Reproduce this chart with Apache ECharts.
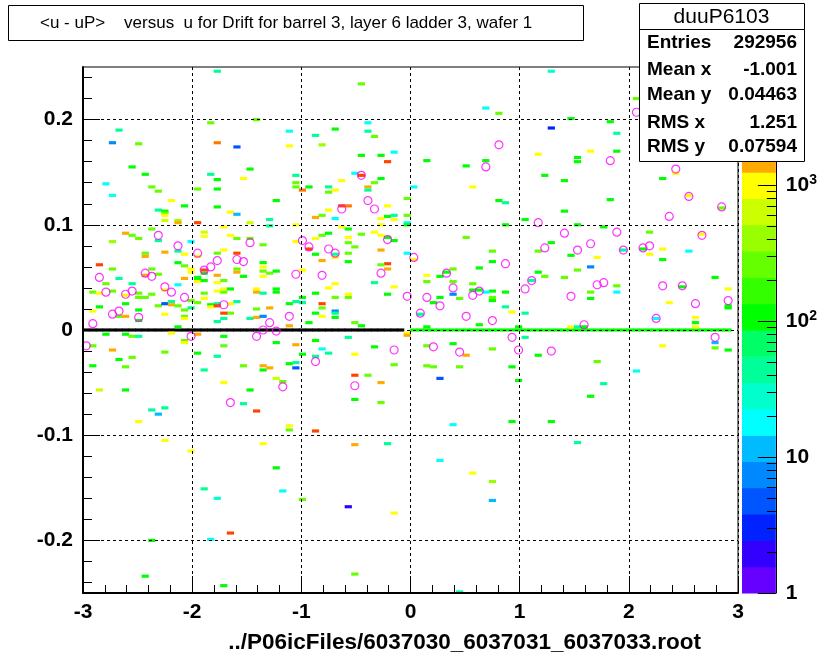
<!DOCTYPE html>
<html>
<head>
<meta charset="utf-8">
<script src="https://cdn.jsdelivr.net/npm/echarts@6/dist/echarts.min.js"></script>
<style>html,body{margin:0;padding:0;background:#fff}#chart{width:820px;height:660px}</style>
</head>
<body>
<div id="chart"></div>
<script>
// ---------------- DATA ----------------
const titleText = '<u - uP>    versus  u for Drift for barrel 3, layer 6 ladder 3, wafer 1';
const xAxisTitle = '../P06icFiles/6037030_6037031_6037033.root';
const histName = 'duuP6103';
const statLabels = ['Entries', 'Mean x', 'Mean y', 'RMS x', 'RMS y'];
const statValues = ['292956', '-1.001', '0.04463', '1.251', '0.07594'];

const yMajorTicks = [-0.2, -0.1, 0, 0.1, 0.2];
const yMinorTicks = [-0.24, -0.22, -0.18, -0.16, -0.14, -0.12, -0.08, -0.06, -0.04, -0.02,
  0.02, 0.04, 0.06, 0.08, 0.12, 0.14, 0.16, 0.18, 0.22, 0.24];
const zMajorCounts = [1, 10, 100, 1000];
const zMinorCounts = [2, 3, 4, 5, 6, 7, 8, 9, 20, 30, 40, 50, 60, 70, 80, 90,
  200, 300, 400, 500, 600, 700, 800, 900, 2000, 3000, 4000, 5000, 6000, 7000];
const zMaxCount = 7413;

// bin centres of the y = 0 band (large counts)
const zeroLineBlackX = [-2.97, -2.91, -2.85, -2.79, -2.73, -2.67, -2.61, -2.55, -2.49, -2.43,
  -2.37, -2.31, -2.25, -2.19, -2.13, -2.07, -2.01, -1.95, -1.89, -1.83, -1.77, -1.71, -1.65,
  -1.59, -1.53, -1.47, -1.41, -1.35, -1.29, -1.23, -1.17, -1.11, -1.05, -0.99, -0.93, -0.87,
  -0.81, -0.75, -0.69, -0.63, -0.57, -0.51, -0.45, -0.39, -0.33, -0.27, -0.21, -0.15, -0.09];
const zeroLineBlackCount = 8000;
const zeroLineGreenX = [0.03, 0.09, 0.15, 0.21, 0.27, 0.33, 0.39, 0.45, 0.51, 0.57, 0.63, 0.69,
  0.75, 0.81, 0.87, 0.93, 0.99, 1.05, 1.11, 1.17, 1.23, 1.29, 1.35, 1.41, 1.47, 1.53, 1.59,
  1.65, 1.71, 1.77, 1.83, 1.89, 1.95, 2.01, 2.07, 2.13, 2.19, 2.25, 2.31, 2.37, 2.43, 2.49,
  2.55, 2.61, 2.67, 2.73, 2.79, 2.85, 2.91];
const zeroLineGreenCount = 108;

// [x, y, counts] cells, x < 0, upper part
const cellsLeftUpper = [
[-1.77,0.246,44],[-0.45,0.234,262],[-1.83,0.197,262],[-1.41,0.200,262],[-2.67,0.190,44],
[-1.11,0.189,18],[-0.39,0.197,18],[-0.39,0.189,44],[-0.87,0.185,44],[-0.69,0.191,108],
[-2.73,0.178,7],[-2.49,0.177,262],[-1.77,0.178,2430],[-1.59,0.174,5],[-1.11,0.175,1000],
[-0.81,0.176,410],[-0.33,0.184,262],[-0.15,0.169,18],[-0.45,0.166,108],[-0.27,0.166,108],
[-0.21,0.160,3800],[-2.55,0.155,108],[-2.43,0.148,108],[-1.83,0.148,44],[-1.77,0.143,108],
[-1.47,0.153,108],[-1.53,0.144,1000],[-1.05,0.147,44],[-1.05,0.140,262],[-2.79,0.139,18],
[-2.37,0.136,262],[-2.31,0.132,262],[-1.95,0.134,262],[-1.77,0.134,108],[-1.05,0.136,262],
[-0.93,0.136,108],[-0.99,0.133,2430],[-0.75,0.136,44],[-0.75,0.131,262],[-0.69,0.133,1000],
[-0.63,0.142,1000],[-0.51,0.149,18],[-0.45,0.147,3800],[-0.39,0.136,1560],[-0.39,0.133,44],
[-0.27,0.144,108],[-0.33,0.140,262],[-2.73,0.128,18],[-2.19,0.123,1000],[-1.23,0.123,108],
[-0.03,0.125,262],[-2.07,0.118,108],[-1.77,0.117,108],[-1.65,0.112,1000],[-1.59,0.110,12],
[-2.31,0.114,44],[-2.25,0.113,108],[-2.25,0.111,262],[-2.25,0.109,1000],[-2.25,0.104,640],
[-2.13,0.104,410],[-2.13,0.102,1560],[-1.95,0.102,3800],[-1.47,0.102,640],[-1.29,0.105,44],
[-1.29,0.099,44],[-1.71,0.098,1000],[-1.05,0.100,1000],[-0.75,0.114,1000],[-0.81,0.109,262],
[-0.87,0.107,1560],[-0.69,0.106,18],[-0.63,0.118,3800],[-0.57,0.118,2430],[-0.63,0.098,1000],
[-0.21,0.118,1000],[-0.27,0.106,1000],[-0.21,0.108,108],[-0.15,0.109,44],[-0.15,0.105,1000],
[-0.03,0.109,262],[-0.03,0.102,18],[-0.03,0.100,108],[-0.27,0.100,1000]
];
// x < 0, between 0 and 0.1
const cellsLeftMid = [
[-2.61,0.092,1560],[-2.55,0.090,262],[-2.49,0.087,262],[-2.37,0.096,262],[-2.31,0.085,44],
[-2.73,0.084,410],[-1.89,0.093,640],[-1.89,0.089,1000],[-1.65,0.090,1000],[-1.59,0.087,262],
[-1.47,0.087,262],[-1.35,0.081,262],[-2.01,0.084,18],[-1.71,0.076,1000],[-2.25,0.074,1560],
[-2.13,0.075,44],[-2.07,0.072,1000],[-2.43,0.073,262],[-2.43,0.070,1560],[-1.95,0.070,1000],
[-1.77,0.073,262],[-1.59,0.073,3800],[-1.35,0.064,108],[-1.35,0.060,1000],[-1.35,0.056,262],
[-1.29,0.054,262],[-1.23,0.056,108],[-1.35,0.051,1000],[-1.05,0.084,1000],[-0.87,0.087,1000],
[-0.81,0.090,262],[-0.75,0.092,108],[-0.57,0.096,108],[-0.57,0.088,1000],[-0.57,0.083,262],
[-0.51,0.079,262],[-0.45,0.091,262],[-0.33,0.093,1000],[-0.27,0.090,1000],[-0.21,0.088,108],
[-0.15,0.085,108],[-0.93,0.077,3800],[-0.87,0.072,108],[-0.81,0.066,1560],[-0.69,0.072,44],
[-0.69,0.069,1000],[-0.57,0.073,262],[-0.57,0.065,108],[-0.27,0.076,1560],[-0.21,0.063,3800],
[-0.21,0.058,1560],[-0.27,0.062,262],[-0.03,0.073,18],[-0.99,0.057,1000],[-0.33,0.045,44],
[-0.15,0.041,1000],[-0.21,0.034,108],[-2.85,0.062,3800],[-2.73,0.058,262],[-2.43,0.052,1560],
[-2.37,0.058,262],[-2.31,0.053,262],[-2.13,0.064,108],[-2.07,0.061,262],[-2.07,0.049,1560],
[-2.01,0.058,1000],[-2.01,0.055,1000],[-1.95,0.050,108],[-1.95,0.048,108],[-1.95,0.046,1000],
[-1.89,0.057,3800],[-1.89,0.054,108],[-1.89,0.047,108],[-1.77,0.052,1560],[-1.77,0.045,1000],
[-1.71,0.047,262],[-1.59,0.058,262],[-1.59,0.055,1560],[-1.53,0.051,108],[-2.67,0.049,44],
[-2.79,0.044,262],[-2.55,0.044,44],[-2.13,0.043,18],[-2.91,0.036,262],[-2.85,0.035,1000],
[-2.73,0.037,262],[-2.61,0.033,1000],[-2.49,0.035,262],[-2.49,0.031,262],[-2.43,0.031,262],
[-2.37,0.034,262],[-2.25,0.038,1000],[-2.01,0.028,262],[-1.89,0.035,262],[-1.89,0.030,1000],
[-1.77,0.037,1000],[-1.71,0.039,1000],[-1.65,0.039,108],[-1.71,0.036,262],[-1.41,0.039,1000],
[-1.41,0.036,1560],[-1.23,0.039,108],[-1.23,0.036,108],[-1.35,0.035,44],[-0.99,0.031,108],
[-0.87,0.035,108],[-0.75,0.040,1000],[-0.69,0.044,1000],[-0.57,0.034,1000],[-0.57,0.031,262],
[-0.69,0.031,262],[-2.61,0.025,108],[-2.31,0.023,262],[-2.25,0.025,5],[-2.19,0.027,44],
[-2.19,0.024,1560],[-2.13,0.023,262],[-1.95,0.026,262],[-2.01,0.021,44],[-1.83,0.024,108],
[-1.83,0.022,1000],[-1.77,0.025,44],[-1.77,0.023,3800],[-1.65,0.025,1000],[-1.59,0.027,44],
[-1.65,0.016,262],[-1.71,0.016,3800],[-1.71,0.011,44],[-1.41,0.020,262],[-1.29,0.021,1560],
[-1.11,0.025,108],[-1.05,0.027,44],[-0.99,0.026,44],[-0.81,0.025,3800],[-0.81,0.021,262],
[-0.69,0.018,7],[-0.69,0.016,44],[-0.87,0.016,108],[-0.81,0.013,1000],[-0.69,0.012,108],
[-0.51,0.007,262],[-0.45,0.004,108],[-2.91,0.018,1000],[-2.85,0.022,108],[-2.67,0.013,262],
[-2.61,0.013,1560],[-2.49,0.019,108],[-2.49,0.009,108],[-2.25,0.015,1000],[-2.07,0.019,262],
[-2.07,0.013,262],[-2.07,0.011,1000],[-1.77,0.008,44],[-1.47,0.011,44],[-1.41,0.012,1560],
[-1.35,0.013,7],[-1.11,0.004,1560],[-0.93,0.007,108],[-2.13,0.003,108]
];
// x < 0, below 0
const cellsLeftLower = [
[-2.19,-0.003,1000],[-2.79,-0.004,108],[-2.61,-0.004,108],[-2.55,-0.006,262],[-2.49,-0.006,44],
[-1.95,-0.004,1560],[-1.71,-0.006,108],[-0.57,-0.007,44],[-0.03,-0.003,1000],[-0.03,-0.005,1560],
[-2.07,-0.010,262],[-2.07,-0.012,1000],[-2.91,-0.015,262],[-2.73,-0.019,1560],[-2.67,-0.028,108],
[-2.55,-0.026,262],[-2.61,-0.035,262],[-2.91,-0.034,108],[-2.25,-0.021,262],[-1.95,-0.022,108],
[-1.77,-0.025,44],[-1.71,-0.015,262],[-1.89,-0.038,44],[-1.53,-0.034,262],[-1.35,-0.034,1560],
[-1.35,-0.038,108],[-1.29,-0.036,1560],[-1.23,-0.012,108],[-1.05,-0.014,1560],[-0.99,-0.023,108],
[-0.87,-0.010,108],[-0.81,-0.018,18],[-0.75,-0.022,44],[-0.87,-0.025,44],[-1.11,-0.032,108],
[-1.05,-0.031,44],[-1.05,-0.036,5],[-0.51,-0.023,1000],[-0.33,-0.016,108],[-0.15,-0.033,262],
[-1.23,-0.046,640],[-1.17,-0.049,262],[-1.71,-0.050,1000],[-2.85,-0.057,640],[-2.61,-0.057,108],
[-1.47,-0.057,108],[-0.51,-0.043,3800],[-0.39,-0.043,262],[-0.27,-0.050,1560],[-0.51,-0.066,108],
[-0.27,-0.069,262],[-2.37,-0.076,44],[-2.25,-0.074,44],[-2.31,-0.080,12],[-1.53,-0.070,44],
[-1.41,-0.077,3800],[-2.49,-0.087,1000],[-1.11,-0.091,1000],[-1.11,-0.095,262],[-0.87,-0.096,3800],
[-2.25,-0.105,1000],[-1.35,-0.108,1000],[-0.51,-0.109,1560],[-0.21,-0.108,44],[-2.01,-0.115,1000],
[-1.23,-0.131,108],[-1.89,-0.151,44],[-1.77,-0.160,28],[-1.17,-0.153,18],[-0.99,-0.161,262],
[-0.57,-0.168,2],[-0.15,-0.174,1000],[-1.65,-0.193,3800],[-2.37,-0.200,108],[-1.83,-0.199,18],
[-2.43,-0.234,108],[-0.51,-0.232,262],[-1.71,-0.243,108]
];
// x > 0
const cellsRight = [
[1.29,0.246,28],[0.69,0.211,18],[0.81,0.206,262],[2.07,0.220,262],[1.47,0.201,108],
[1.29,0.192,3],[1.83,0.198,108],[1.89,0.187,44],[1.65,0.170,1000],[1.17,0.167,1000],
[1.53,0.164,108],[1.53,0.160,108],[1.89,0.170,108],[0.15,0.161,108],[0.69,0.161,108],
[0.51,0.156,108],[0.57,0.136,1000],[0.03,0.136,18],[1.23,0.147,108],[1.41,0.142,108],
[0.81,0.123,108],[0.87,0.121,44],[1.41,0.113,108],[1.83,0.124,108],[2.43,0.149,1000],
[2.31,0.144,108],[2.55,0.128,1000],[2.85,0.116,262],[1.05,0.105,108],[1.53,0.100,108],
[0.87,0.100,108],[1.77,0.098,108],[2.19,0.093,262],[2.67,0.091,1000],[0.51,0.088,262],
[0.75,0.075,262],[0.03,0.067,1000],[0.75,0.065,108],[0.33,0.055,108],[0.39,0.058,262],
[0.15,0.052,1000],[0.15,0.046,262],[0.39,0.046,262],[0.27,0.051,108],[0.63,0.059,108],
[1.17,0.075,262],[1.29,0.083,108],[1.47,0.071,108],[1.71,0.069,1000],[1.95,0.076,44],
[2.13,0.077,108],[2.19,0.072,1000],[2.31,0.077,1000],[2.31,0.067,108],[2.55,0.075,18],
[1.65,0.060,7],[1.53,0.057,262],[1.17,0.055,108],[1.23,0.051,262],[1.41,0.050,262],
[1.11,0.047,44],[0.57,0.044,262],[0.57,0.038,108],[0.63,0.038,108],[0.75,0.037,108],
[0.87,0.036,108],[0.69,0.036,18],[0.39,0.034,7],[0.45,0.030,262],[0.75,0.031,262],
[0.75,0.028,108],[0.27,0.031,108],[0.21,0.026,108],[1.89,0.042,262],[1.89,0.036,18],
[1.65,0.036,262],[1.65,0.030,108],[2.79,0.050,108],[2.49,0.041,108],[2.91,0.039,1000],
[2.91,0.023,108],[2.91,0.021,108],[0.87,0.022,44],[0.93,0.017,1000],[1.05,0.016,44],
[0.09,0.015,44],[0.63,0.005,108],[0.15,0.003,108],[0.99,0.003,108],[1.47,0.003,1000],
[1.53,0.003,44],[1.59,0.003,108],[2.37,0.026,1000],[2.25,0.011,18],[2.61,0.012,1000],
[2.61,0.007,108],[2.61,0.003,1000],[1.05,-0.007,44],[0.15,-0.015,262],[0.39,-0.013,108],
[0.51,-0.024,1560],[0.75,-0.018,262],[1.17,-0.024,108],[2.31,-0.015,1000],[2.79,-0.012,12],
[2.79,-0.017,262],[2.91,-0.019,108],[0.15,-0.034,262],[0.21,-0.035,262],[0.45,-0.035,262],
[0.93,-0.035,108],[0.99,-0.048,108],[0.27,-0.046,5],[1.71,-0.030,262],[2.07,-0.039,18],
[1.77,-0.051,44],[1.65,-0.063,108],[0.39,-0.090,18],[0.93,-0.087,108],[1.29,-0.087,108],
[1.53,-0.107,44],[0.27,-0.124,18],[0.57,-0.136,1000],[0.75,-0.144,410],[0.75,-0.162,12],
[0.45,-0.249,44]
];

// profile points (mean y per x bin) [x, y]
const profilePoints = [
[-0.45,0.147],[-0.39,0.123],[-0.33,0.115],[-0.63,0.115],[-0.21,0.086],[-2.31,0.090],
[-2.13,0.080],[-1.47,0.083],[-0.99,0.085],[-0.93,0.079],[-0.75,0.077],[-0.69,0.073],
[-1.95,0.073],[-1.77,0.066],[-1.59,0.067],[-1.53,0.065],[-1.83,0.060],[-1.89,0.057],
[-2.43,0.054],[-2.37,0.051],[-1.05,0.053],[-0.81,0.052],[-0.27,0.054],[-2.85,0.050],
[-2.25,0.041],[-2.19,0.036],[-2.79,0.036],[-2.55,0.037],[-2.61,0.034],[-2.07,0.031],
[-0.03,0.032],[-1.71,0.024],[-2.67,0.018],[-2.73,0.015],[-2.49,0.012],[-1.11,0.013],
[-2.91,0.006],[-1.29,0.007],[-1.35,0.000],[-1.23,-0.001],[-2.01,-0.006],[-1.41,-0.006],
[-2.97,-0.015],[-0.15,-0.019],[-0.87,-0.030],[-1.17,-0.054],[-0.51,-0.053],[-1.65,-0.069],
[2.07,0.207],[0.81,0.176],[0.69,0.155],[1.83,0.161],[2.43,0.153],[2.55,0.127],
[2.85,0.117],[2.37,0.108],[1.17,0.102],[1.41,0.092],[1.89,0.093],[2.67,0.090],
[1.65,0.082],[1.23,0.078],[1.53,0.076],[1.95,0.076],[2.13,0.078],[2.19,0.080],
[0.03,0.069],[0.87,0.063],[0.33,0.054],[0.39,0.040],[0.63,0.037],[0.57,0.033],
[0.15,0.031],[0.27,0.023],[1.05,0.039],[1.11,0.047],[1.71,0.043],[1.77,0.045],
[1.47,0.032],[2.31,0.042],[2.49,0.042],[2.61,0.025],[2.91,0.028],[0.09,0.016],
[0.51,0.013],[0.75,0.009],[1.59,0.005],[2.25,0.011],[0.93,-0.007],[2.79,-0.007],
[0.21,-0.016],[0.45,-0.021],[0.99,-0.019],[1.29,-0.020]
];

// ---------------- STYLE / DRAWING ----------------
const FONT = '"Liberation Sans", Arial, Helvetica, sans-serif';
const CELL_W = 0.066, CELL_H = 0.003;
const paletteColors = ['#6600ff','#3300ff','#0022ff','#0055ff','#0088ff','#00bbff','#00ffff',
  '#00ffcc','#00ff99','#00ff66','#00ff00','#33ff00','#66ff00','#99ff00','#ccff00','#ffff00',
  '#ffaa00','#ff7700','#ff4400','#ff0000'];
const NLEV = paletteColors.length;
const zLogMax = Math.log10(zMaxCount);

function colorFor(c) {
  if (c > zMaxCount) return '#000000';
  const k = Math.min(NLEV - 1, Math.max(0, Math.floor(Math.log10(c) / (zLogMax / NLEV))));
  return paletteColors[k];
}

const zeroCells = zeroLineBlackX.map(x => [x, 0, zeroLineBlackCount])
  .concat(zeroLineGreenX.map(x => [x, 0, zeroLineGreenCount]));
const allCells = zeroCells.concat(cellsLeftUpper, cellsLeftMid, cellsLeftLower, cellsRight);

function renderCell(params, api) {
  const x = api.value(0), y = api.value(1), c = api.value(2);
  const p0 = api.coord([x - CELL_W / 2, y + CELL_H / 2]);
  const p1 = api.coord([x + CELL_W / 2, y - CELL_H / 2]);
  const cs = params.coordSys;
  const r = echarts.graphic.clipRectByRect(
    { x: p0[0], y: p0[1], width: p1[0] - p0[0], height: p1[1] - p0[1] },
    { x: cs.x, y: cs.y, width: cs.width, height: cs.height });
  if (!r) return null;
  return { type: 'rect', shape: r, style: { fill: colorFor(c) } };
}

const paletteLevels = paletteColors.map((c, i) => [i]);
function renderBand(params, api) {
  const k = api.value(0);
  const step = zLogMax / NLEV;
  const p0 = api.coord([0, (k + 1) * step]);
  const p1 = api.coord([1, k * step]);
  return { type: 'rect', shape: { x: p0[0], y: p0[1], width: p1[0] - p0[0], height: p1[1] - p0[1] + 0.5 },
    style: { fill: paletteColors[k] } };
}

const chart = echarts.init(document.getElementById('chart'), null, { renderer: 'canvas' });
const tickFont = { color: '#000', fontSize: 21, fontWeight: 'bold', fontFamily: FONT };

const statsLeft = 639, statsRight = 804, statsTop = 3, statsBottom = 161, statsSep = 29;
const rowY = [43, 70, 95, 123, 147];
const statsElems = [
  { type: 'rect', z: 100, shape: { x: statsLeft + 0.5, y: statsTop + 0.5, width: statsRight - statsLeft, height: statsBottom - statsTop },
    style: { fill: '#fff', stroke: '#000', lineWidth: 1 } },
  { type: 'line', z: 101, shape: { x1: statsLeft, y1: statsSep + 0.5, x2: statsRight, y2: statsSep + 0.5 },
    style: { stroke: '#000', lineWidth: 1 } },
  { type: 'text', z: 101, style: { text: histName, x: (statsLeft + statsRight) / 2, y: 17,
    textAlign: 'center', textVerticalAlign: 'middle', font: '21px ' + FONT, fill: '#000' } }
];
statLabels.forEach((lab, i) => {
  statsElems.push({ type: 'text', z: 101, style: { text: lab, x: 647, y: rowY[i], textAlign: 'left',
    textVerticalAlign: 'middle', font: 'bold 19px ' + FONT, fill: '#000' } });
  statsElems.push({ type: 'text', z: 101, style: { text: statValues[i], x: 797, y: rowY[i], textAlign: 'right',
    textVerticalAlign: 'middle', font: 'bold 19px ' + FONT, fill: '#000' } });
});

const option = {
  animation: false,
  backgroundColor: '#fff',
  grid: [
    { left: 83, right: 82, top: 67, bottom: 67, show: true, borderColor: '#000', borderWidth: 1, backgroundColor: '#fff' },
    { left: 742, right: 41, top: 67, bottom: 67, show: false }
  ],
  xAxis: [
    { gridIndex: 0, type: 'value', min: -3, max: 3, interval: 1, z: 10,
      axisLine: { onZero: false, lineStyle: { color: '#000', width: 2 } },
      axisTick: { inside: true, length: 17, lineStyle: { color: '#000', width: 1 } },
      minorTick: { show: true, splitNumber: 5, length: 8, lineStyle: { color: '#000', width: 1 } },
      splitLine: { show: true, lineStyle: { color: '#000', width: 1, type: [3, 3] } },
      axisLabel: Object.assign({ margin: 9, formatter: v => String(v) }, tickFont) },
    { gridIndex: 1, type: 'value', min: 0, max: 1, show: false }
  ],
  yAxis: [
    { gridIndex: 0, type: 'value', min: -0.25, max: 0.25, position: 'left', z: 10,
      axisLine: { onZero: false, lineStyle: { color: '#000', width: 2 } },
      axisTick: { inside: true, length: 17, customValues: yMajorTicks, lineStyle: { color: '#000', width: 1 } },
      splitLine: { show: true, lineStyle: { color: '#000', width: 1, type: [3, 3] } },
      axisLabel: Object.assign({ margin: 10, customValues: yMajorTicks, formatter: v => String(v) }, tickFont) },
    { gridIndex: 0, type: 'value', min: -0.25, max: 0.25, position: 'left', z: 10,
      axisLine: { show: false, onZero: false },
      axisTick: { inside: true, length: 9, customValues: yMinorTicks, lineStyle: { color: '#000', width: 1 } },
      splitLine: { show: false }, axisLabel: { show: false } },
    { gridIndex: 1, type: 'value', min: 0, max: zLogMax, position: 'right', z: 10,
      axisLine: { show: true, onZero: false, lineStyle: { color: '#000', width: 1 } },
      axisTick: { inside: true, length: 18, customValues: zMajorCounts.map(Math.log10), lineStyle: { color: '#000', width: 1 } },
      splitLine: { show: false },
      axisLabel: Object.assign({ margin: 10, customValues: zMajorCounts.map(Math.log10),
        formatter: v => { const e = Math.round(v); return e === 0 ? '1' : e === 1 ? '10' : '10{s|' + e + '}'; },
        rich: { s: { fontSize: 14, fontWeight: 'bold', fontFamily: FONT, color: '#000', padding: [0, 0, 11, 0] } } }, tickFont) },
    { gridIndex: 1, type: 'value', min: 0, max: zLogMax, position: 'right', z: 10,
      axisLine: { show: false, onZero: false },
      axisTick: { inside: true, length: 9, customValues: zMinorCounts.map(Math.log10), lineStyle: { color: '#000', width: 1 } },
      splitLine: { show: false }, axisLabel: { show: false } }
  ],
  series: [
    { type: 'custom', name: 'cells', xAxisIndex: 0, yAxisIndex: 0, renderItem: renderCell,
      data: allCells, clip: true, silent: true, z: 2 },
    { type: 'scatter', name: 'profile', xAxisIndex: 0, yAxisIndex: 0, data: profilePoints,
      symbol: 'circle', symbolSize: 8, silent: true, z: 3,
      itemStyle: { color: 'rgba(0,0,0,0)', borderColor: '#ff00ff', borderWidth: 1.2 } },
    { type: 'custom', name: 'palette', xAxisIndex: 1, yAxisIndex: 2, renderItem: renderBand,
      data: paletteLevels, silent: true, z: 2 }
  ],
  graphic: [
    { type: 'rect', z: 100, shape: { x: 8.5, y: 5.5, width: 575, height: 35 },
      style: { fill: '#fff', stroke: '#000', lineWidth: 1 } },
    { type: 'text', z: 101, style: { text: titleText, x: 40, y: 23, textAlign: 'left',
      textVerticalAlign: 'middle', font: '17px ' + FONT, fill: '#000' } },
    { type: 'text', z: 101, style: { text: xAxisTitle, x: 701, y: 643, textAlign: 'right',
      textVerticalAlign: 'middle', font: 'bold 22.5px ' + FONT, fill: '#000' } }
  ].concat(statsElems)
};
chart.setOption(option);
</script>
</body>
</html>
